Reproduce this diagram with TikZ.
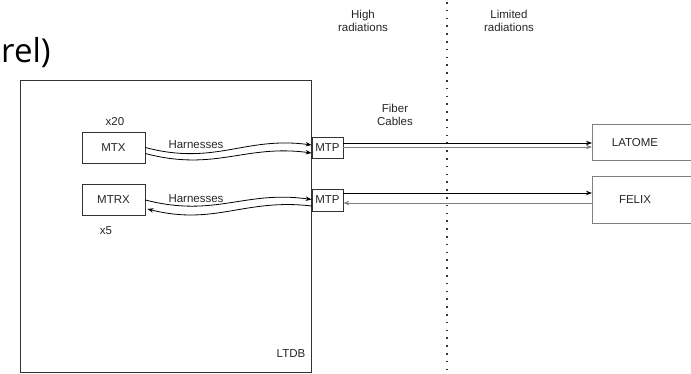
\documentclass[tikz,border=0pt]{standalone}
\usepackage{fontspec}
\setmainfont{Liberation Sans}
\newfontfamily\bigfont{Open Sans}
\usetikzlibrary{arrows.meta,calc}

\begin{document}
\begin{tikzpicture}[
    x=1pt, y=-1pt,
    every node/.style={font=\fontsize{11.5}{13.5}\selectfont, text=black!85},
    box/.style={rectangle, draw=black!80, line width=0.8pt, inner sep=0pt},
    farbox/.style={rectangle, draw=black!50, line width=1pt, inner sep=0pt},
    harness/.style={line width=0.8pt, -{Stealth[length=6pt,width=4.5pt]}},
    fiber/.style={line width=0.8pt, -{Stealth[length=6pt,width=4.5pt]}},
    fibergrey/.style={fiber, draw=black!50}
]
\useasboundingbox (0,0) rectangle (691,373);

% Title fragment
\node[anchor=base west, inner sep=0pt, font=\bigfont\fontsize{33}{36}\selectfont, text=black] (title) at (1,62) {rel)};

% Radiation zones
\draw[line width=1.6pt, dash pattern=on 1.6pt off 6.2pt, black!80] (447,2) -- (447,373);
\node[align=center] (high) at (363,21) {High\\radiations};
\node[align=center] (limited) at (509,21) {Limited\\radiations};

% LTDB board
\node[box, minimum width=291, minimum height=292, anchor=north west] (ltdb) at (20,80) {};
\node (ltdblabel) at (291,354) {LTDB};

\node[box, minimum width=63, minimum height=31] (mtx) at (113.5,147.5) {MTX};
\node[box, minimum width=63, minimum height=31] (mtrx) at (113.5,199.5) {MTRX};
\node (x20) at (115,122) {x20};
\node (x5) at (106,231) {x5};

\node[box, minimum width=31, minimum height=21, fill=white] (mtpa) at (327.5,147.5) {MTP};
\node[box, minimum width=31, minimum height=22, fill=white] (mtpb) at (327.5,200) {MTP};

% Back-end
\node[farbox, minimum width=115, minimum height=36, anchor=north west] (latome) at (592,124) {\hspace*{-30pt}LATOME};
\node[farbox, minimum width=115, minimum height=47, anchor=north west] (felix) at (592,176) {\hspace*{-30pt}FELIX};

% Harnesses
\draw[harness] ($(mtx.east)+(0,0)$) .. controls (215,166) and (245,136) .. ($(mtpa.west)+(0,-2.5)$);
\draw[harness] ($(mtx.east)+(0,6)$) .. controls (215,172) and (245,144) .. ($(mtpa.west)+(0,5.5)$);
\node (harna) at (196,145) {Harnesses};

\draw[harness] ($(mtrx.east)+(0,0.5)$) .. controls (215,218) and (245,190) .. ($(mtpb.west)+(0,-0.5)$);
\draw[harness] ($(mtpb.west)+(0,6)$) .. controls (245,198) and (215,226) .. ($(mtrx.east)+(2,9.5)$);
\node (harnb) at (196,199) {Harnesses};

% Fiber cables
\node[align=center] (fiber) at (395,115) {Fiber\\Cables};
\draw[fiber] ([yshift=4.5pt]mtpa.east) -- ([yshift=4.5pt]mtpa.east -| latome.west);
\draw[fibergrey] ([yshift=0.5pt]mtpa.east) -- ([yshift=0.5pt]mtpa.east -| latome.west);
\draw[fiber] ([yshift=7pt]mtpb.east) -- ([yshift=7pt]mtpb.east -| felix.west);
\draw[fibergrey] ([yshift=-3pt]mtpb.east -| felix.west) -- ([yshift=-3pt]mtpb.east);

\end{tikzpicture}
\end{document}
